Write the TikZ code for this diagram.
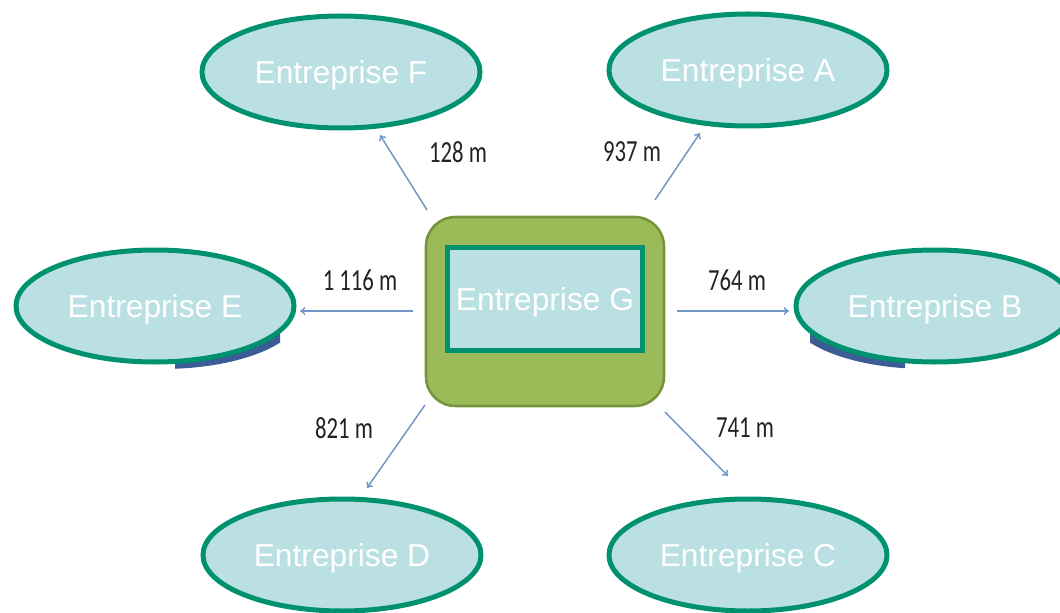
\documentclass[tikz,border=0pt]{standalone}
\usepackage{fontspec}
\usetikzlibrary{shapes.geometric,arrows.meta}
\newfontfamily\arialf{Liberation Sans}
\newfontfamily\calibf{Carlito}
\definecolor{ellfill}{RGB}{186,224,227}
\definecolor{tealline}{RGB}{0,146,110}
\definecolor{gfill}{RGB}{155,187,89}
\definecolor{gline}{RGB}{118,146,60}
\definecolor{arrowc}{RGB}{112,150,200}
\definecolor{labc}{RGB}{34,34,34}
\definecolor{shadowc}{RGB}{60,92,150}
\tikzset{
  ent/.style={ellipse, draw=tealline, line width=3.75pt, fill=ellfill,
    minimum width=208.5pt, minimum height=84pt, inner sep=0pt,
    text height=17pt, text depth=0pt,
    text=white, font=\arialf\fontsize{23.8}{26}\selectfont},
  shad/.style={ellipse, fill=shadowc, minimum width=208.5pt, minimum height=84pt, inner sep=0pt},
  conn/.style={draw=arrowc, line width=1.1pt, -{To[length=4pt,width=6pt]}},
  dist/.style={text=labc, font=\calibf\fontsize{23}{24}\selectfont, inner sep=0pt}
}
\newcommand{\dlab}[1]{\scalebox{0.74}[1]{#1}}
\begin{document}
\begin{tikzpicture}[x=0.75pt,y=-0.75pt]
\useasboundingbox (0,0) rectangle (1060,613);
% shadows
\begin{scope}
  \clip (175,330) rectangle (280,372);
  \node[shad] (sE) at (162,313) {};
\end{scope}
\begin{scope}
  \clip (810,330) rectangle (905,372);
  \node[shad] (sB) at (928,313) {};
\end{scope}
% ellipses
\node[ent] (F) at (341,72) {Entreprise F};
\node[ent] (A) at (748,70) {Entreprise A};
\node[ent] (E) at (155,306) {Entreprise E};
\node[ent] (B) at (935,306) {Entreprise B};
\node[ent] (D) at (342,555) {Entreprise D};
\node[ent] (C) at (748,555) {Entreprise C};
% central
\node[draw=gline, line width=1.9pt, fill=gfill, rounded corners=22pt,
  minimum width=178.5pt, minimum height=141.75pt] (Gout) at (545,311.5) {};
\node[draw=tealline, line width=3.75pt, fill=ellfill, minimum width=146pt,
  minimum height=77pt, inner sep=0pt, text=white, text height=17pt, text depth=0pt,
  font=\arialf\fontsize{23.8}{26}\selectfont] (G) at (545,299) {Entreprise G};
% connector ends
\coordinate (gF) at (427,210); \coordinate (tF) at (380,135);
\coordinate (gA) at (655,200); \coordinate (tA) at (700,133);
\coordinate (gE) at (413,311); \coordinate (tE) at (300,311);
\coordinate (gB) at (677,311); \coordinate (tB) at (789,311);
\coordinate (gD) at (425,405); \coordinate (tD) at (367,488);
\coordinate (gC) at (665,412); \coordinate (tC) at (728,476);
\draw[conn] (gF) -- (tF);
\draw[conn] (gA) -- (tA);
\draw[conn] (gE) -- (tE);
\draw[conn] (gB) -- (tB);
\draw[conn] (gD) -- (tD);
\draw[conn] (gC) -- (tC);
% labels
\node[dist] (lF) at (458,152) {\dlab{128 m}};
\node[dist] (lA) at (632,152) {\dlab{937 m}};
\node[dist] (lE) at (360,280) {\dlab{1 116 m}};
\node[dist] (lB) at (737,280) {\dlab{764 m}};
\node[dist] (lD) at (344,428) {\dlab{821 m}};
\node[dist] (lC) at (745,428) {\dlab{741 m}};
\end{tikzpicture}
\end{document}
